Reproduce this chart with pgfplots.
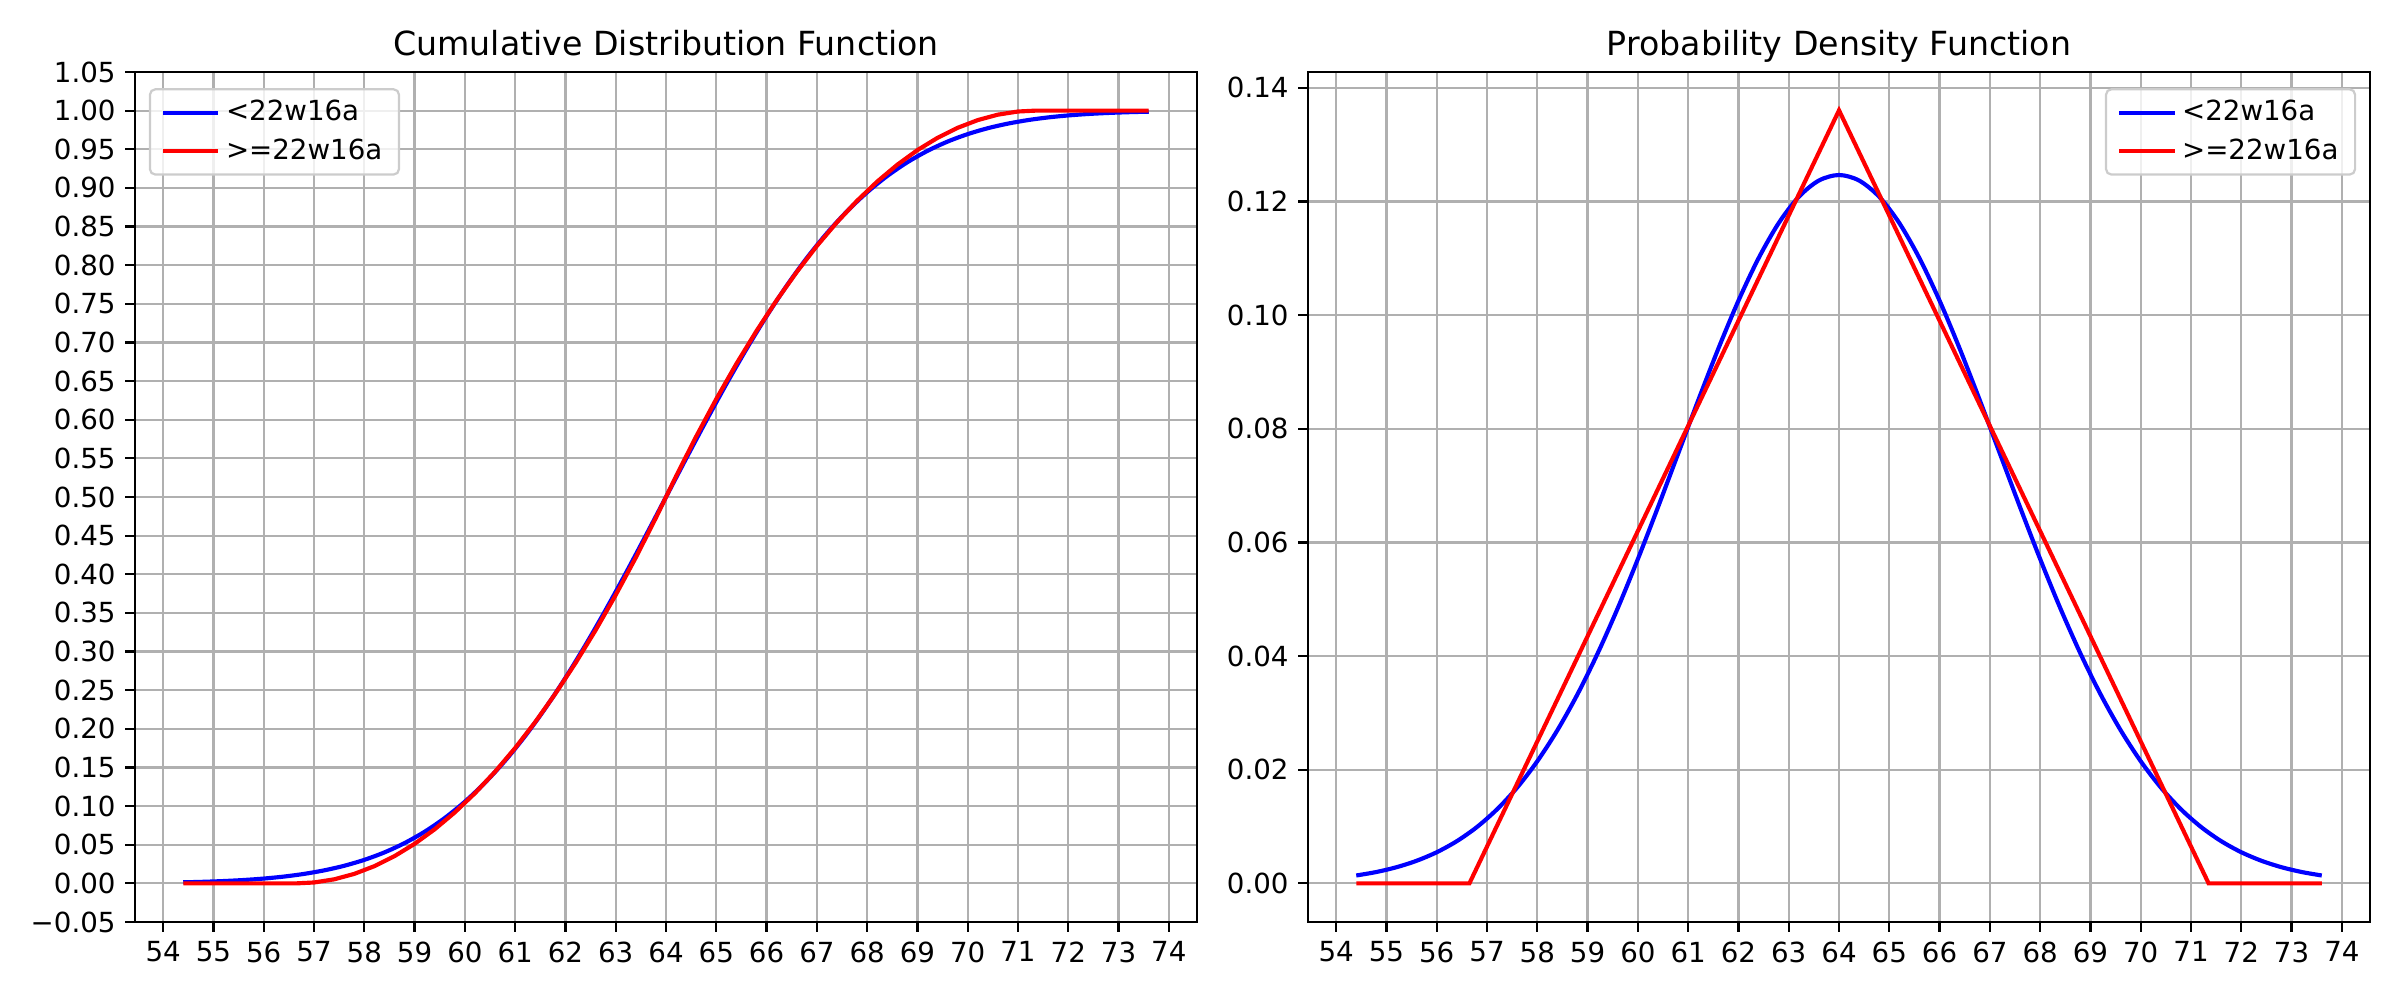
\documentclass[border=0pt]{standalone}
\usepackage{pgfplots}
\pgfplotsset{compat=1.18}
\usepackage{fontspec}
\setmainfont{DejaVu Sans}
\definecolor{gridgray}{HTML}{B0B0B0}
\definecolor{legedge}{HTML}{CCCCCC}
\pgfplotsset{
 mystyle/.style={
  scale only axis, width=382.32bp, height=306bp,
  xmin=53.44, xmax=74.56,
  xtick={54,...,74},
  grid=major, major grid style={gridgray, line width=0.8pt},
  axis line style={line width=0.8pt},
  tick style={black, line width=0.8pt},
  tick align=outside, major tick length=3.5pt,
  tick pos=left,
  tick label style={font=\fontsize{10}{12}\selectfont},
  /pgf/number format/assume math mode=true,
  title style={font=\fontsize{12}{14}\selectfont, at={(0.5,1)}, anchor=base},
  legend style={font=\fontsize{10}{12}\selectfont, draw=legedge, rounded corners=2pt, fill=white, fill opacity=0.8, text opacity=1, line width=0.8pt, inner xsep=4pt, inner ysep=2pt, row sep=1pt},
  legend cell align=left,
  legend image code/.code={\draw (0pt,0pt) -- (20pt,0pt);},
 }
}
\begin{document}
\begin{tikzpicture}
\path[use as bounding box] (0,0) rectangle (864bp,360bp);
\begin{axis}[mystyle, at={(48.6bp,28.08bp)}, anchor=south west,
  title={Cumulative Distribution Function},
  ymin=-0.05, ymax=1.05,
  ytick={-0.05,0,0.05,0.1,0.15,0.2,0.25,0.3,0.35,0.4,0.45,0.5,0.55,0.6,0.65,0.7,0.75,0.8,0.85,0.9,0.95,1.0,1.05},
  yticklabels={−0.05,0.00,0.05,0.10,0.15,0.20,0.25,0.30,0.35,0.40,0.45,0.50,0.55,0.60,0.65,0.70,0.75,0.80,0.85,0.90,0.95,1.00,1.05},
  legend style={at={(0.013,0.981)}, anchor=north west},
]
\addplot[blue, line width=1.5pt, smooth] coordinates {
(54.4,0.001350)(54.8,0.002020)(55.2,0.002980)(55.6,0.004332)(56.0,0.006210)(56.4,0.008774)(56.8,0.012224)(57.2,0.016794)(57.6,0.022750)(58.0,0.030396)(58.4,0.040059)(58.8,0.052081)(59.2,0.066807)(59.6,0.084566)(60.0,0.105650)(60.4,0.130295)(60.8,0.158655)(61.2,0.190787)(61.6,0.226627)(62.0,0.265986)(62.4,0.308538)(62.8,0.353830)(63.2,0.401294)(63.6,0.450262)(64.0,0.5)(64.4,0.549738)(64.8,0.598706)(65.2,0.646170)(65.6,0.691462)(66.0,0.734014)(66.4,0.773373)(66.8,0.809213)(67.2,0.841345)(67.6,0.869705)(68.0,0.894350)(68.4,0.915434)(68.8,0.933193)(69.2,0.947919)(69.6,0.959941)(70.0,0.969604)(70.4,0.977250)(70.8,0.983206)(71.2,0.987776)(71.6,0.991226)(72.0,0.993790)(72.4,0.995668)(72.8,0.997020)(73.2,0.997980)(73.6,0.998650)
};
\addlegendentry{<22w16a}
\addplot[red, line width=1.5pt] coordinates {
(54.4,0)(56.65,0)(57.0,0.001134)(57.4,0.005206)(57.8,0.012240)(58.2,0.022236)(58.6,0.035194)(59.0,0.051113)(59.4,0.069994)(59.8,0.091837)(60.2,0.116641)(60.6,0.144407)(61.0,0.175135)(61.4,0.208825)(61.8,0.245477)(62.2,0.285090)(62.6,0.327665)(63.0,0.373201)(63.4,0.421699)(63.8,0.473159)(64.0,0.5)(64.2,0.526841)(64.6,0.578301)(65.0,0.626799)(65.4,0.672335)(65.8,0.714910)(66.2,0.754523)(66.6,0.791175)(67.0,0.824865)(67.4,0.855593)(67.8,0.883359)(68.2,0.908163)(68.6,0.930006)(69.0,0.948887)(69.4,0.964806)(69.8,0.977764)(70.2,0.987760)(70.6,0.994794)(71.0,0.998866)(71.35,1)(73.6,1)
};
\addlegendentry{>=22w16a}
\end{axis}
\begin{axis}[mystyle, at={(470.88bp,28.08bp)}, anchor=south west,
  title={Probability Density Function},
  ymin=-0.0068, ymax=0.1428,
  ytick={0,0.02,0.04,0.06,0.08,0.10,0.12,0.14},
  yticklabel style={/pgf/number format/.cd, fixed, fixed zerofill, precision=2},
  legend style={at={(0.987,0.981)}, anchor=north east},
]
\addplot[blue, line width=1.5pt, smooth] coordinates {
(54.4,0.001385)(54.8,0.001999)(55.2,0.002842)(55.6,0.003977)(56.0,0.005478)(56.4,0.007429)(56.8,0.009919)(57.2,0.013039)(57.6,0.016872)(58.0,0.021496)(58.4,0.026962)(58.8,0.033295)(59.2,0.040474)(59.6,0.048440)(60.0,0.057078)(60.4,0.066211)(60.8,0.075616)(61.2,0.085017)(61.6,0.094105)(62.0,0.102550)(62.4,0.110020)(62.8,0.116204)(63.2,0.120833)(63.6,0.123699)(64.0,0.124669)(64.4,0.123699)(64.8,0.120833)(65.2,0.116204)(65.6,0.110020)(66.0,0.102550)(66.4,0.094105)(66.8,0.085017)(67.2,0.075616)(67.6,0.066211)(68.0,0.057078)(68.4,0.048440)(68.8,0.040474)(69.2,0.033295)(69.6,0.026962)(70.0,0.021496)(70.4,0.016872)(70.8,0.013039)(71.2,0.009919)(71.6,0.007429)(72.0,0.005478)(72.4,0.003977)(72.8,0.002842)(73.2,0.001999)(73.6,0.001385)
};
\addlegendentry{<22w16a}
\addplot[red, line width=1.5pt] coordinates {
(54.4,0)(56.65,0)(64.0,0.13605)(71.35,0)(73.6,0)
};
\addlegendentry{>=22w16a}
\end{axis}
\end{tikzpicture}
\end{document}
